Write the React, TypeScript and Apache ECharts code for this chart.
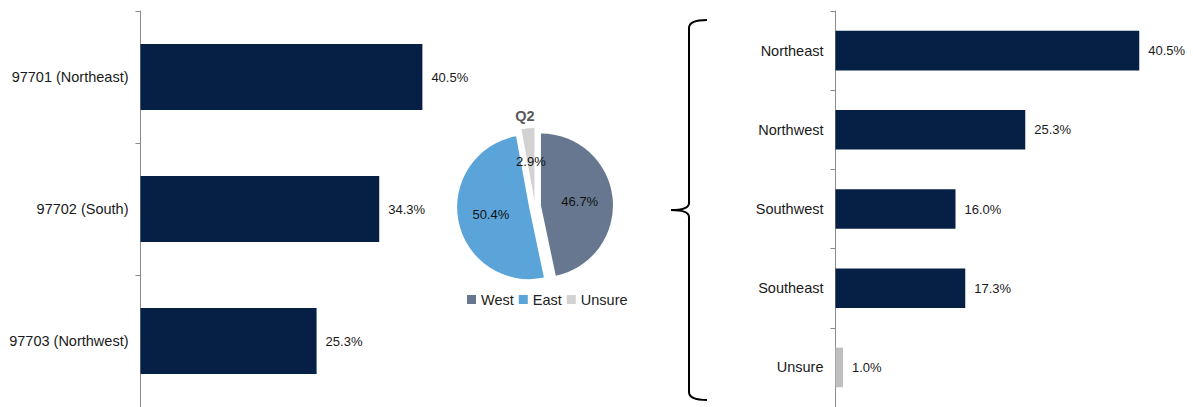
import React, { useEffect, useRef } from "react";
import * as echarts from "echarts";

const leftCategories = ["97701 (Northeast)", "97702 (South)", "97703 (Northwest)"];
const leftValues = [40.5, 34.3, 25.3];

const rightCategories = ["Northeast", "Northwest", "Southwest", "Southeast", "Unsure"];
const rightValues = [40.5, 25.3, 16.0, 17.3, 1.0];

const pieNames = ["West", "East", "Unsure"];
const pieValues = [46.7, 50.4, 2.9];
const pieColors = ["#67778f", "#5ba4d9", "#d2d2d2"];
const pieTitle = "Q2";

const NAVY = "#061f44";
const FONT = "'Liberation Sans', Arial, sans-serif";

const braceD =
  "M707,20 Q689,20 689,28 L689,203 Q689,210 671,210 Q689,210 689,217 L689,392 Q689,400 707,400";
let braceRegistered = false;
function registerBrace() {
  if (braceRegistered) return;
  echarts.graphic.registerShape("brace", echarts.graphic.extendPath(braceD, {}) as any);
  braceRegistered = true;
}

export default function App() {
  const ref = useRef<HTMLDivElement>(null);
  useEffect(() => {
    if (!ref.current) return;
    registerBrace();
    const chart = echarts.init(ref.current, undefined, { renderer: "svg" });
    const catAxisCommon = {
      type: "category" as const,
      inverse: true,
      axisLine: { show: true, lineStyle: { color: "#8c8c8c", width: 1 } },
      axisTick: { show: true, length: 5, lineStyle: { color: "#8c8c8c" } },
      axisLabel: { margin: 12, fontSize: 14.5, color: "#1a1a1a", fontFamily: FONT },
    };
    const valAxisCommon = {
      type: "value" as const,
      min: 0,
      show: false,
      splitLine: { show: false },
    };
    const barLabel = {
      show: true,
      position: "right" as const,
      distance: 9,
      fontSize: 13,
      color: "#1a1a1a",
      fontFamily: FONT,
      formatter: (p: any) => Number(p.value).toFixed(1) + "%",
    };
    chart.setOption({
      animation: false,
      textStyle: { fontFamily: FONT },
      grid: [
        { left: 140.5, top: 11, width: 348, height: 396 },
        { left: 835.5, top: 11, width: 337.5, height: 396 },
      ],
      xAxis: [
        { ...valAxisCommon, gridIndex: 0, max: 50 },
        { ...valAxisCommon, gridIndex: 1, max: 45 },
      ],
      yAxis: [
        { ...catAxisCommon, gridIndex: 0, data: leftCategories },
        { ...catAxisCommon, gridIndex: 1, data: rightCategories },
      ],
      legend: {
        data: pieNames,
        left: 462,
        top: 287,
        icon: "rect",
        itemWidth: 9,
        itemHeight: 9,
        itemGap: 5,
        selectedMode: false,
        textStyle: { fontSize: 14.5, color: "#222", fontFamily: FONT },
      },
      graphic: [
        {
          type: "brace",
          x: 0,
          y: 0,
          style: { stroke: "#000", lineWidth: 2, fill: "none" },
          silent: true,
        } as any,
        {
          type: "text",
          x: 525,
          y: 116,
          style: {
            text: pieTitle,
            align: "center",
            verticalAlign: "middle",
            fontSize: 14.5,
            fontWeight: "bold",
            fontFamily: FONT,
            fill: "#595959",
          },
        },
      ],
      series: [
        {
          type: "bar",
          xAxisIndex: 0,
          yAxisIndex: 0,
          data: leftValues,
          barWidth: "50%",
          itemStyle: { color: NAVY },
          label: barLabel,
          emphasis: { disabled: true },
        },
        {
          type: "bar",
          xAxisIndex: 1,
          yAxisIndex: 1,
          data: rightValues.map((v, i) => ({
            value: v,
            itemStyle: { color: rightCategories[i] === "Unsure" ? "#bfbfbf" : NAVY },
          })),
          barWidth: "50%",
          label: barLabel,
          emphasis: { disabled: true },
        },
        {
          type: "pie",
          center: [535, 206],
          radius: [0, 72],
          startAngle: 90,
          clockwise: true,
          selectedMode: "multiple",
          selectedOffset: 6,
          emphasis: { disabled: true },
          select: { itemStyle: {} },
          labelLine: { show: false },
          label: {
            show: true,
            position: "inside",
            fontSize: 13,
            color: "#111",
            fontFamily: FONT,
            formatter: (p: any) => Number(p.value).toFixed(1) + "%",
          },
          data: pieNames.map((n, i) => ({
            name: n,
            value: pieValues[i],
            selected: true,
            itemStyle: { color: pieColors[i] },
          })),
        },
      ],
    });
    return () => chart.dispose();
  }, []);
  return (
    <div
      ref={ref}
      style={{ position: "fixed", left: 0, top: 0, width: 1193, height: 407, background: "#fff" }}
    />
  );
}
